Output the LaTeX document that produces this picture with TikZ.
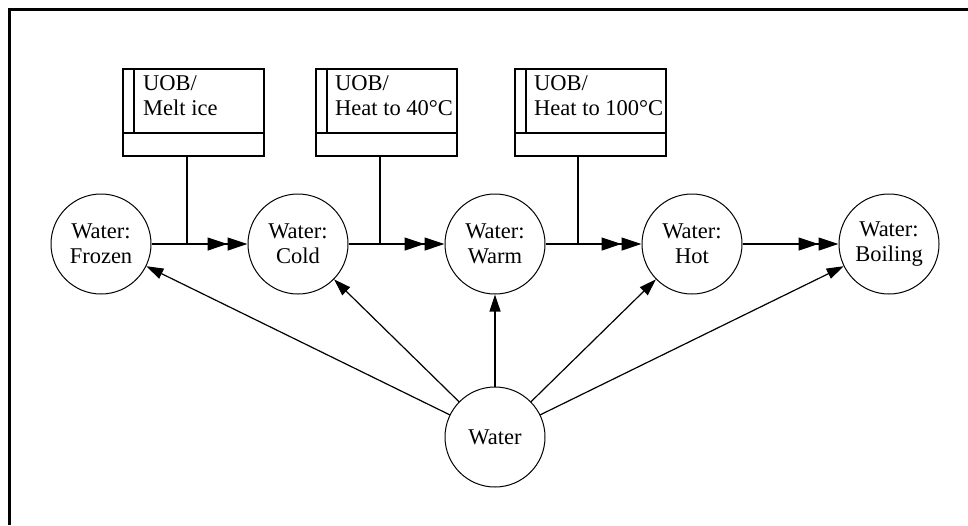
\documentclass[tikz,border=0pt]{standalone}
\usepackage{fontspec}
\setmainfont{Liberation Serif}
\usetikzlibrary{positioning,arrows.meta}
\newcommand{\wfont}{\fontsize{22.5pt}{25pt}\selectfont}
\tikzset{
  state/.style ={circle, draw, line width=1pt, minimum size=100pt,
                 inner sep=0pt, align=center, font=\wfont},
  hd/.style    ={draw, line width=1.2pt, minimum width=141pt, minimum height=64pt,
                 anchor=north west, outer sep=0pt},
  ft/.style    ={draw, line width=1.2pt, minimum width=141pt, minimum height=23pt,
                 outer sep=0pt},
  lbl/.style   ={anchor=north west, inner sep=0pt, align=left, font=\wfont},
  dbl/.style   ={-{Triangle[length=20pt,width=13pt]Triangle[length=20pt,width=13pt]}, line width=1.2pt},
  fl/.style    ={-{Triangle[length=17pt,width=11pt]}, line width=1.2pt}
}

\begin{document}
\begin{tikzpicture}[x=1pt,y=-1pt]
  \useasboundingbox (0,0) rectangle (968,525);
  \draw[line width=3pt] (968,9.5) -- (9.5,9.5) -- (9.5,525);

  % states
  \node[state] (frozen) at (101,244) {Water:\\Frozen};
  \node[state, right=96pt of frozen] (cold) {Water:\\Cold};
  \node[state, right=96pt of cold] (warm) {Water:\\Warm};
  \node[state, right=96pt of warm] (hot) {Water:\\Hot};
  \node[state, right=96pt of hot] (boil) {Water:\\Boiling};
  \node[state, below=92pt of warm] (water) {Water};

  \coordinate (j1) at (187,244);
  \coordinate (j2) at (380,244);
  \coordinate (j3) at (578,244);

  % UOB boxes
  \node[hd] (melthd) at (123,69) {};
  \node[ft, below=0pt of melthd] (meltft) {};
  \node[lbl] (melttx) at ([xshift=20pt,yshift=-6pt]melthd.north west) {UOB/\\Melt ice};

  \node[hd] (h40hd) at (316,69) {};
  \node[ft, below=0pt of h40hd] (h40ft) {};
  \node[lbl] (h40tx) at ([xshift=19pt,yshift=-6pt]h40hd.north west) {UOB/\\Heat to 40°C};

  \node[hd, minimum width=151pt] (h100hd) at (515,69) {};
  \node[ft, minimum width=151pt, below=0pt of h100hd] (h100ft) {};
  \node[lbl] (h100tx) at ([xshift=19pt,yshift=-6pt]h100hd.north west) {UOB/\\Heat to 100°C};

  \foreach \b in {melthd,h40hd,h100hd}
    \draw[line width=1.2pt] ([xshift=11pt]\b.north west) -- ([xshift=11pt]\b.south west);

  \draw[line width=1.2pt](meltft.south -| j1)--(j1);
  \draw[line width=1.2pt](h40ft.south -| j2)--(j2);
  \draw[line width=1.2pt](h100ft.south -| j3)--(j3);

  \draw[dbl](frozen)--(cold);
  \draw[dbl](cold)--(warm);
  \draw[dbl](warm)--(hot);
  \draw[dbl](hot)--(boil);

  \foreach \s in {frozen,cold,warm,hot,boil}
    \draw[fl](water)--(\s);
\end{tikzpicture}
\end{document}
